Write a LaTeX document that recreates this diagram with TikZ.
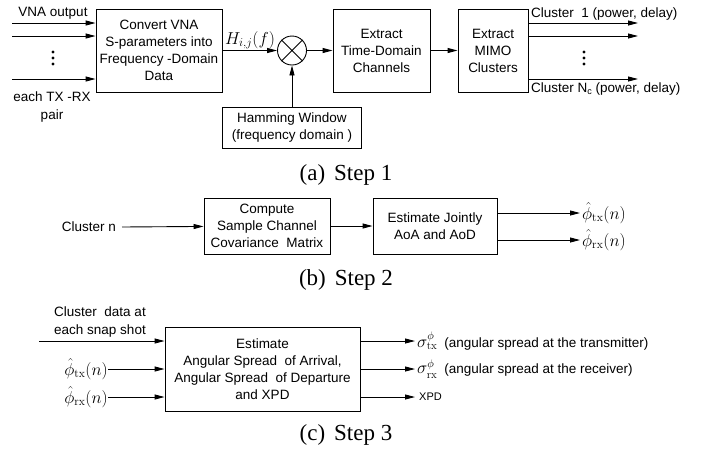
\documentclass[tikz,border=0pt]{standalone}
\usepackage{fontspec}
\newfontfamily\boxfont{Liberation Sans}
\newfontfamily\capfont{Liberation Serif}
\usetikzlibrary{arrows.meta}
\tikzset{
  blk/.style={draw, line width=0.9pt, inner sep=0pt, align=center, font=\boxfont\fontsize{13.5}{17}\selectfont},
  arr/.style={line width=0.9pt, -{Triangle[length=10pt,width=5pt]}},
  ln/.style={line width=0.9pt},
  lbl/.style={inner sep=0pt, align=center, font=\boxfont\fontsize{13.5}{17.5}\selectfont},
  mlbl/.style={inner sep=0pt, font=\fontsize{17}{19}\selectfont},
  captxt/.style={inner sep=0pt, font=\capfont\fontsize{23}{26}\selectfont},
  dotc/.style={fill=black, circle, inner sep=0pt, minimum size=3.2pt}
}
\begin{document}
\begin{tikzpicture}[x=1pt,y=-1pt]
\useasboundingbox (0,0) rectangle (706,451);
% ---------- Step 1 ----------
\node[blk, minimum width=126pt, minimum height=83pt] (b1) at (159,50.5) {Convert VNA\\S-parameters into\\Frequency -Domain\\Data};
\node[draw, circle, line width=0.9pt, minimum size=29pt, inner sep=0pt] (mult) at (292,50.5) {};
\draw[ln] (mult.north east) -- (mult.south west) (mult.north west) -- (mult.south east);
\node[blk, minimum width=97pt, minimum height=83pt] (b2) at (381.5,50.5) {Extract\\Time-Domain\\Channels};
\node[blk, minimum width=70pt, minimum height=83pt] (b3) at (493,50.5) {Extract\\MIMO\\Clusters};
\node[blk, minimum width=139pt, minimum height=41pt] (ham) at (292,127.5) {Hamming Window\\(frequency domain )};

\coordinate (i1) at (12,23);
\coordinate (i2) at (12,36);
\coordinate (i3) at (12,79);
\draw[arr] (i1) -- (i1 -| b1.west);
\draw[arr] (i2) -- (i2 -| b1.west);
\draw[arr] (i3) -- (i3 -| b1.west);
\node[lbl] (vna) at (53,13) {VNA output};
\node[lbl] (pair) at (52,107) {each TX -RX\\pair};
\node[dotc] (d1) at (53,52) {};
\node[dotc] (d2) at (53,58) {};
\node[dotc] (d3) at (53,64) {};

\draw[arr] (b1) -- (mult);
\node[mlbl] (H) at (250,40) {$H_{i,j}(f)$};
\draw[arr] (mult) -- (b2);
\draw[arr] (ham.north) -- (mult.south);
\draw[arr] (b2) -- (b3);

\coordinate (o1) at (638,23);
\coordinate (o2) at (638,36);
\coordinate (o3) at (638,79);
\draw[arr] (o1 -| b3.east) -- (o1);
\draw[arr] (o2 -| b3.east) -- (o2);
\draw[arr] (o3 -| b3.east) -- (o3);
\node[dotc] (e1) at (584,52) {};
\node[dotc] (e2) at (584,58) {};
\node[dotc] (e3) at (584,64) {};
\node[lbl, anchor=west] (c1) at (531,14) {Cluster~ 1 (power, delay)};
\node[lbl, anchor=west] (cn) at (531,89) {Cluster N\raisebox{-0.35ex}{\fontsize{9}{9}\selectfont c} (power, delay)};

\node[captxt] (capa) at (346,175) {(a)\hspace{9pt}Step 1};

% ---------- Step 2 ----------
\node[blk, minimum width=126pt, minimum height=56pt] (s2a) at (267,226) {Compute\\Sample Channel\\Covariance~ Matrix};
\node[blk, minimum width=124pt, minimum height=56pt] (s2b) at (435,226) {Estimate Jointly\\AoA and AoD};
\node[lbl, anchor=east] (cln) at (116,227) {Cluster n};
\draw[arr] ([xshift=6pt]cln.east) -- (s2a);
\draw[arr] (s2a) -- (s2b);
\node[mlbl, anchor=west] (ptx) at (582,213) {$\hat{\phi}_{\mathrm{tx}}(n)$};
\node[mlbl, anchor=west] (prx) at (582,240) {$\hat{\phi}_{\mathrm{rx}}(n)$};
\draw[arr] (ptx.west -| s2b.east) -- ([xshift=-2pt]ptx.west);
\draw[arr] (prx.west -| s2b.east) -- ([xshift=-2pt]prx.west);

\node[captxt] (capb) at (346,280) {(b)\hspace{9pt}Step 2};

% ---------- Step 3 ----------
\node[blk, minimum width=195pt, minimum height=84pt] (s3) at (262.5,369) {Estimate\\Angular Spread~ of Arrival,\\Angular Spread~ of Departure\\and XPD};
\node[lbl] (cd) at (100,322) {Cluster~ data at\\each snap shot};
\coordinate (ci) at (39,341);
\draw[arr] (ci) -- (ci -| s3.west);
\node[mlbl, anchor=east] (itx) at (108,369) {$\hat{\phi}_{\mathrm{tx}}(n)$};
\node[mlbl, anchor=east] (irx) at (108,397) {$\hat{\phi}_{\mathrm{rx}}(n)$};
\draw[arr] (itx.east) -- (itx.east -| s3.west);
\draw[arr] (irx.east) -- (irx.east -| s3.west);

\node[anchor=west, inner sep=0pt] (stx) at (417,341) {\fontsize{16}{18}\selectfont$\sigma^{\phi}_{\mathrm{tx}}$\hspace{7pt}\boxfont\fontsize{13.5}{16}\selectfont(angular spread at the transmitter)};
\node[anchor=west, inner sep=0pt] (srx) at (417,369) {\fontsize{16}{18}\selectfont$\sigma^{\phi}_{\mathrm{rx}}$\hspace{7pt}\boxfont\fontsize{13.5}{16}\selectfont(angular spread at the receiver)};
\node[lbl, anchor=west, font=\boxfont\fontsize{11}{13}\selectfont] (xpd) at (419,397) {XPD};
\draw[arr] (stx.west -| s3.east) -- ([xshift=-2pt]stx.west);
\draw[arr] (srx.west -| s3.east) -- ([xshift=-2pt]srx.west);
\draw[arr] (xpd.west -| s3.east) -- ([xshift=-4pt]xpd.west);

\node[captxt] (capc) at (346,435) {(c)\hspace{9pt}Step 3};
\end{tikzpicture}
\end{document}
